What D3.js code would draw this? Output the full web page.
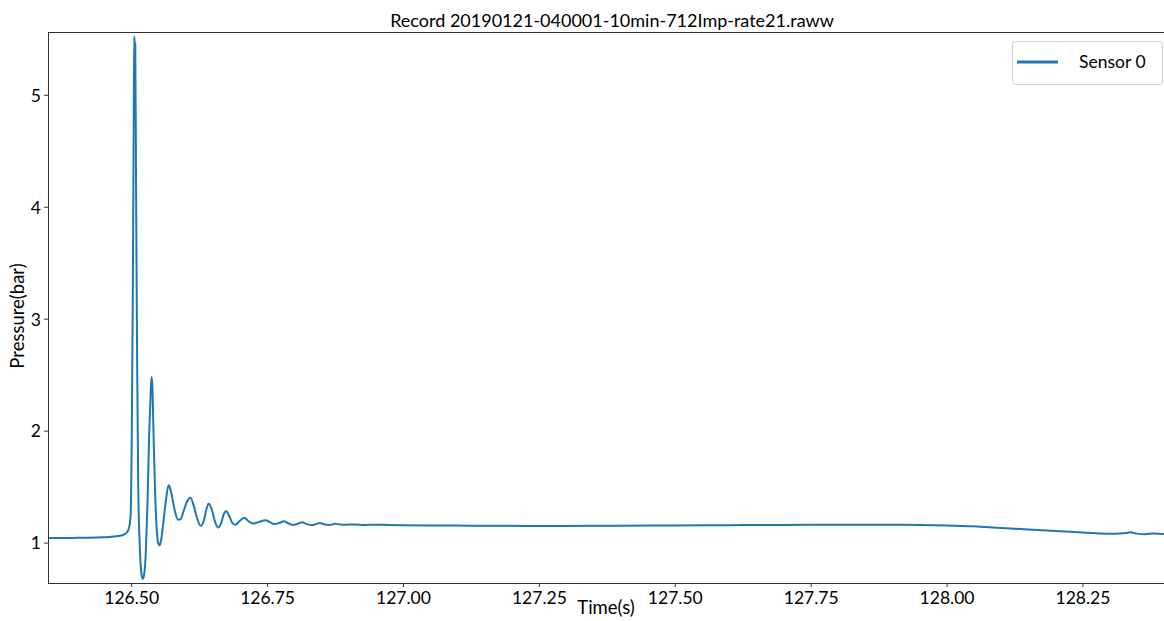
<!DOCTYPE html>
<html>
<head>
<meta charset="utf-8">
<script src="https://cdn.jsdelivr.net/npm/d3@7"></script>
<style>
  html, body { margin: 0; padding: 0; background: #fff; }
  svg { display: block; }
  text { font-family: Lato, "Open Sans", "DejaVu Sans", sans-serif; fill: #000; }
</style>
</head>
<body>
<svg id="chart" width="1164" height="621"></svg>
<script>
// ---------------- data ----------------
const chartTitle = "Record 20190121-040001-10min-712Imp-rate21.raww";
const seriesName = "Sensor 0";
const xLabel = "Time(s)";
const yLabel = "Pressure(bar)";

const xTicks = [126.50, 126.75, 127.00, 127.25, 127.50, 127.75, 128.00, 128.25];
const yTicks = [1, 2, 3, 4, 5];

const timeS = [
  126.347, 126.36, 126.38, 126.40, 126.42, 126.44, 126.46, 126.475, 126.485, 126.492,
  126.496, 126.499, 126.501, 126.503, 126.5045, 126.5055, 126.5062, 126.5068, 126.5075, 126.509,
  126.511, 126.513, 126.516, 126.519, 126.5215, 126.524, 126.527, 126.530, 126.533, 126.536,
  126.5375, 126.539, 126.541, 126.544, 126.547, 126.550, 126.5525, 126.555, 126.559, 126.564,
  126.569, 126.574, 126.580, 126.586, 126.591, 126.597, 126.603, 126.609, 126.615, 126.621,
  126.628, 126.634, 126.638, 126.6425, 126.648, 126.654, 126.660, 126.666, 126.670, 126.675,
  126.681, 126.687, 126.692, 126.699, 126.708, 126.716, 126.7245, 126.735, 126.747, 126.756,
  126.7645, 126.772, 126.781, 126.790, 126.798, 126.806, 126.815, 126.823, 126.832, 126.840,
  126.847, 126.856, 126.865, 126.875, 126.885, 126.895, 126.91, 126.93, 126.95, 126.975,
  127.00, 127.05, 127.10, 127.15, 127.20, 127.25, 127.30, 127.35, 127.40, 127.45,
  127.50, 127.55, 127.60, 127.65, 127.70, 127.75, 127.80, 127.85, 127.90, 127.95,
  128.00, 128.05, 128.10, 128.15, 128.20, 128.25, 128.28, 128.31, 128.33, 128.338,
  128.35, 128.365, 128.38, 128.40
];
const pressureBar = [
  1.040, 1.042, 1.040, 1.043, 1.044, 1.046, 1.050, 1.058, 1.068, 1.090,
  1.130, 1.250, 1.900, 3.200, 4.600, 5.520, 5.470, 5.400, 5.460, 4.200,
  2.600, 1.500, 0.950, 0.720, 0.675, 0.720, 0.920, 1.350, 1.950, 2.350,
  2.480, 2.400, 2.000, 1.450, 1.120, 0.990, 0.975, 1.020, 1.170, 1.380,
  1.515, 1.440, 1.290, 1.205, 1.210, 1.290, 1.370, 1.400, 1.330, 1.220,
  1.150, 1.200, 1.290, 1.350, 1.300, 1.190, 1.135, 1.180, 1.250, 1.280,
  1.230, 1.170, 1.160, 1.190, 1.222, 1.190, 1.170, 1.185, 1.200, 1.180,
  1.165, 1.175, 1.190, 1.170, 1.158, 1.168, 1.182, 1.165, 1.156, 1.165,
  1.175, 1.162, 1.158, 1.168, 1.162, 1.160, 1.162, 1.158, 1.160, 1.157,
  1.155, 1.153, 1.152, 1.150, 1.150, 1.148, 1.149, 1.150, 1.151, 1.152,
  1.153, 1.154, 1.155, 1.157, 1.158, 1.159, 1.160, 1.160, 1.159, 1.157,
  1.153, 1.145, 1.130, 1.117, 1.103, 1.090, 1.082, 1.080, 1.085, 1.092,
  1.080, 1.075, 1.082, 1.076
];

// ---------------- layout ----------------
const plot = { left: 48, top: 32, right: 1164, bottom: 583 };
const lineColor = "#1f77b4";

const svg = d3.select("#chart");

const x = d3.scaleLinear().domain([126.347, 128.400]).range([plot.left, plot.right]);
const y = d3.scaleLinear().domain([0.639, 5.561]).range([plot.bottom, plot.top]);

const data = timeS.map((t, i) => ({ t, v: pressureBar[i] }));

svg.append("defs").append("clipPath").attr("id", "clip")
  .append("rect")
  .attr("x", plot.left).attr("y", plot.top)
  .attr("width", plot.right - plot.left).attr("height", plot.bottom - plot.top);

const line = d3.line().x(d => x(d.t)).y(d => y(d.v)).curve(d3.curveMonotoneX);
svg.append("path")
  .datum(data)
  .attr("clip-path", "url(#clip)")
  .attr("fill", "none")
  .attr("stroke", lineColor)
  .attr("stroke-width", 2)
  .attr("stroke-linejoin", "round")
  .attr("d", line);

const xAxis = d3.axisBottom(x).tickValues(xTicks).tickFormat(d3.format(".2f")).tickSize(4).tickSizeOuter(0);
const yAxis = d3.axisLeft(y).tickValues(yTicks).tickFormat(d3.format("d")).tickSize(4).tickSizeOuter(0);

const gx = svg.append("g").attr("transform", `translate(0,${plot.bottom})`).call(xAxis);
const gy = svg.append("g").attr("transform", `translate(${plot.left},0)`).call(yAxis);
[gx, gy].forEach(g => {
  g.select(".domain").remove();
  g.selectAll(".tick line").attr("stroke", "#333").attr("stroke-width", 1);
  g.selectAll(".tick text").attr("font-size", "17.5px").attr("font-family", "Lato, sans-serif").attr("fill", "#000");
});
gx.selectAll(".tick text").attr("dy", 0).attr("y", 21);
gy.selectAll(".tick text").attr("x", -7).attr("dy", "0.36em");

svg.append("rect")
  .attr("x", plot.left + 0.5).attr("y", plot.top + 0.5)
  .attr("width", plot.right - plot.left).attr("height", plot.bottom - plot.top)
  .attr("fill", "none").attr("stroke", "#333").attr("stroke-width", 1);

svg.append("text")
  .attr("x", 612).attr("y", 27)
  .attr("text-anchor", "middle").attr("font-size", "18px")
  .text(chartTitle);

svg.append("text")
  .attr("x", 606).attr("y", 614)
  .attr("text-anchor", "middle").attr("font-size", "18.5px")
  .text(xLabel);
svg.append("text")
  .attr("transform", `translate(24,316) rotate(-90)`)
  .attr("text-anchor", "middle").attr("font-size", "18.5px")
  .text(yLabel);

const lg = svg.append("g");
lg.append("rect")
  .attr("x", 1012.5).attr("y", 41.5).attr("width", 150).attr("height", 43)
  .attr("rx", 3).attr("ry", 3)
  .attr("fill", "#fff").attr("fill-opacity", 0.8)
  .attr("stroke", "#d0d0d0").attr("stroke-width", 1);
lg.append("line")
  .attr("x1", 1017).attr("x2", 1058).attr("y1", 62).attr("y2", 62)
  .attr("stroke", lineColor).attr("stroke-width", 3);
lg.append("text")
  .attr("x", 1079).attr("y", 68).attr("font-size", "17.5px")
  .text(seriesName);
</script>
</body>
</html>
